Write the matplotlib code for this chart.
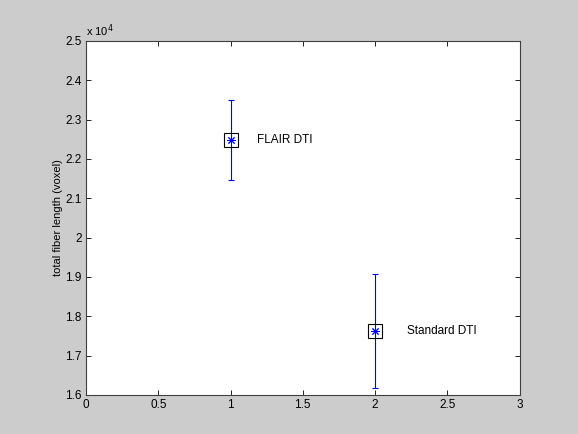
import matplotlib
matplotlib.use('Agg')
import matplotlib.pyplot as plt
from matplotlib.ticker import FuncFormatter

# data
labels = ['FLAIR DTI', 'Standard DTI']
xpos = [1, 2]
means = [22480, 17620]
errs = [1020, 1450]
label_dx = [0.18, 0.22]

plt.rcParams['font.family'] = ['Liberation Sans', 'DejaVu Sans']
plt.rcParams['font.size'] = 8

fig = plt.figure(figsize=(5.78, 4.34), dpi=100, facecolor='#cccccc')
ax = fig.add_axes([0.1488, 0.0899, 0.7500, 0.8157])

ax.errorbar(xpos, means, yerr=errs, fmt='none', ecolor='blue',
            elinewidth=0.8, capsize=2, capthick=0.8)
ax.plot(xpos, means, linestyle='none', marker=(8, 2, 0), color='blue',
        markersize=6, markeredgewidth=0.7)
ax.plot(xpos, means, 's', markerfacecolor='none', markeredgecolor='black',
        markersize=10, markeredgewidth=0.8)
for x, y, lab, dx in zip(xpos, means, labels, label_dx):
    ax.text(x + dx, y, lab, ha='left', va='center', fontsize=8.5, color='black')

ax.set_xlim(0, 3)
ax.set_ylim(16000, 25000)
ax.set_xticks([0, 0.5, 1, 1.5, 2, 2.5, 3])
ax.set_yticks([16000 + 1000 * i for i in range(10)])
ax.xaxis.set_major_formatter(FuncFormatter(lambda v, p: f'{v:g}'))
ax.yaxis.set_major_formatter(FuncFormatter(lambda v, p: f'{v / 1e4:g}'))
ax.tick_params(direction='in', top=True, right=True, length=3.5, width=0.6,
               labelsize=8.5, pad=3)
for s in ax.spines.values():
    s.set_linewidth(0.8)
    s.set_color('#404040')

ax.set_ylabel('total fiber length (voxel)', fontsize=8, labelpad=2)
ax.text(0.0, 1.005, 'x 10$^{4}$', transform=ax.transAxes, ha='left',
        va='bottom', fontsize=8)

fig.savefig('out.png', dpi=100, facecolor=fig.get_facecolor())
